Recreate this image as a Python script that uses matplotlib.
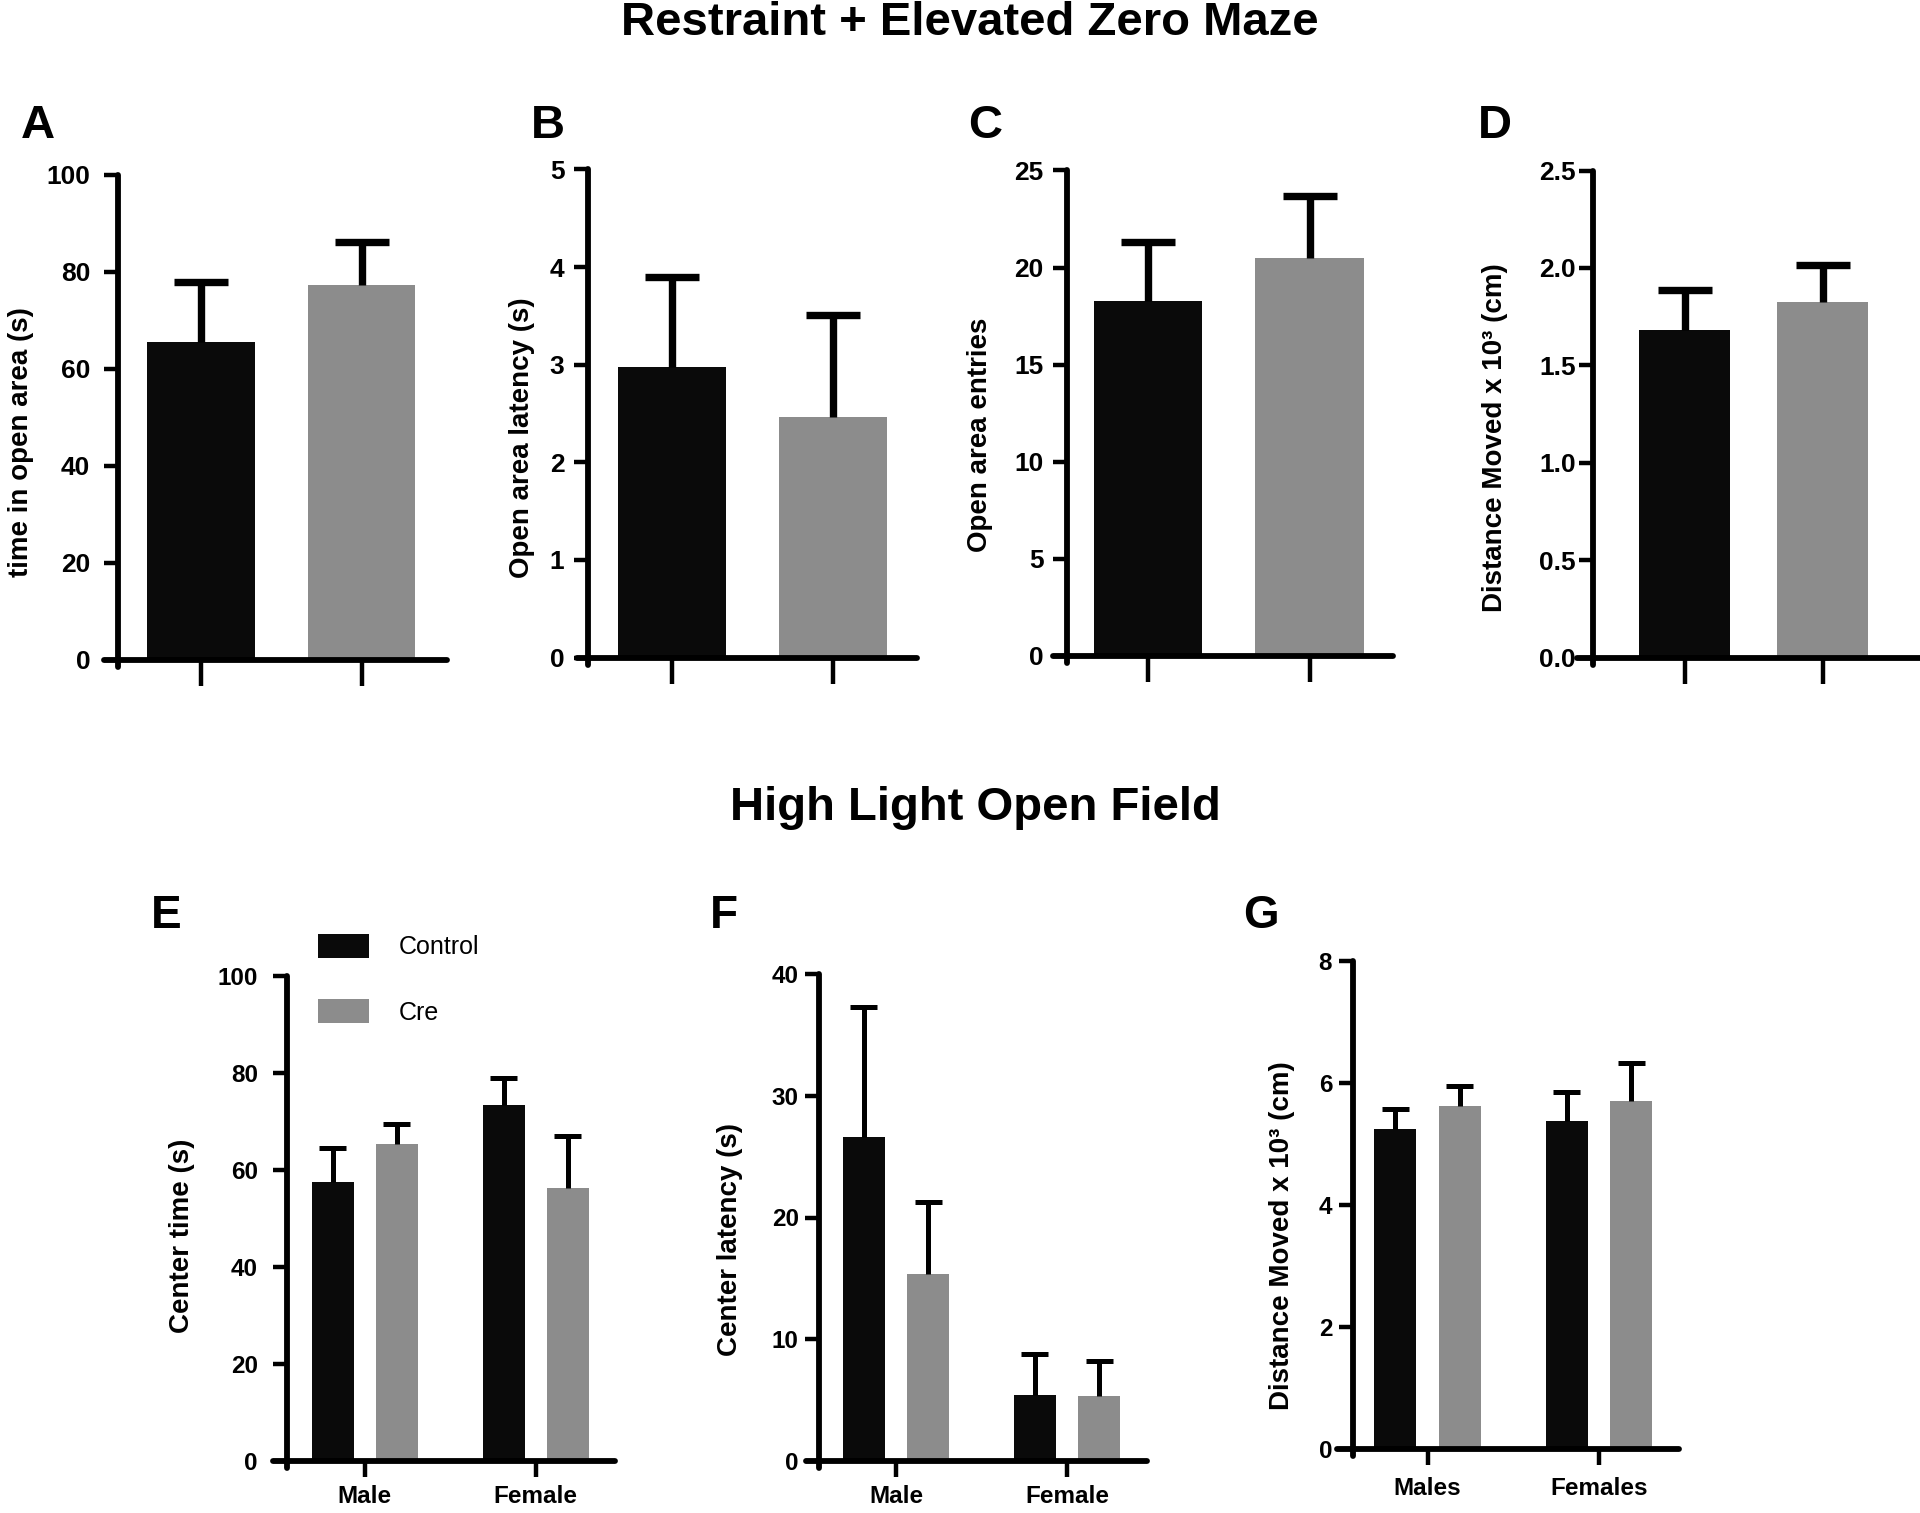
# Restraint + elevated zero maze / high light open field bar panels
import numpy as np
import matplotlib
matplotlib.use("Agg")
import matplotlib.pyplot as plt

plt.rcParams['font.family'] = ['Liberation Sans', 'DejaVu Sans']

# ---- data ----
groups = ["Control", "Cre"]

# top row (A-D): control / cre means and upper SEM
top_ylabels = ["time in open area (s)", "Open area latency (s)",
               "Open area entries", "Distance Moved x 10\u00b3 (cm)"]
top_ctrl = [65.5, 2.98, 18.3, 1.68]
top_ctrl_err = [12.3, 0.92, 3.0, 0.205]
top_cre = [77.2, 2.46, 20.5, 1.826]
top_cre_err = [8.9, 1.05, 3.2, 0.19]
top_ymax = [100, 5, 25, 2.5]
top_ystep = [20, 1, 5, 0.5]

# bottom row (E-G): male / female
sex_labels = [["Male", "Female"], ["Male", "Female"], ["Males", "Females"]]
bot_ylabels = ["Center time (s)", "Center latency (s)",
               "Distance Moved x 10\u00b3 (cm)"]
bot_ctrl = [[57.6, 73.3], [26.6, 5.4], [5.24, 5.37]]
bot_ctrl_err = [[6.9, 5.6], [10.7, 3.4], [0.34, 0.49]]
bot_cre = [[65.4, 56.2], [15.4, 5.3], [5.63, 5.71]]
bot_cre_err = [[4.0, 10.8], [5.9, 2.95], [0.32, 0.62]]
bot_ymax = [100, 40, 8]
bot_ystep = [20, 10, 2]

BLACK = "#0a0a0a"
GREY = "#8c8c8c"

W, H = 1920, 1513
fig = plt.figure(figsize=(W / 100, H / 100), dpi=100)


def px_axes(x0, xs, x1, c0, u, yt, yz, ymax):
    # build an axes from a pixel layout
    yb = yz + 7
    ax = fig.add_axes([x0 / W, 1 - yb / H, (x1 - x0) / W, (yb - yt) / H])
    ax.set_xlim((x0 - c0) / u, (x1 - c0) / u)
    ax.set_ylim(-(yb - yz) / (yz - yt) * ymax, ymax)
    ax.spines['left'].set_position(('data', (xs - c0) / u))
    ax.spines['bottom'].set_position(('data', 0))
    ax.spines['top'].set_visible(False)
    ax.spines['right'].set_visible(False)
    for s in ('left', 'bottom'):
        ax.spines[s].set_linewidth(4.2)
        ax.spines[s].set_capstyle('round')
    ax.patch.set_visible(False)
    return ax


def upper_err(ax, x, vals, errs, half, lw):
    # SEM drawn upward only: stem + top cap
    x = np.asarray(x, float)
    tops = np.asarray(vals) + np.asarray(errs)
    ax.vlines(x, vals, tops, color='black', linewidth=lw, zorder=3)
    ax.hlines(tops, x - half, x + half, color='black', linewidth=lw, zorder=3)


def ftext(x, y, s, **kw):
    fig.text(x / W, 1 - y / H, s, **kw)


# ---- top row ----
top_layout = [
    (104, 118, 447, 201, 160.5, 174.5, 659.5, 0.67, 10),
    (577, 588, 917, 672, 161, 169.5, 657.5, 0.67, 7),
    (1053, 1067, 1393, 1148, 161.5, 170.5, 656, 0.67, 7),
    (1577, 1593, 1920, 1684.5, 138, 170.5, 657.5, 0.66, 2.5),
]
top_letters = [("A", 38), ("B", 548), ("C", 985), ("D", 1495)]
top_ylab_pos = [(21, 442), (522, 438), (980, 435), (1495, 438)]

for i in range(4):
    x0, xs, x1, c0, u, yt, yz, bw, pad = top_layout[i]
    ax = px_axes(x0, xs, x1, c0, u, yt, yz, top_ymax[i])
    xpos = np.arange(2)
    vals = [top_ctrl[i], top_cre[i]]
    errs = [top_ctrl_err[i], top_cre_err[i]]
    ax.bar(xpos, vals, width=bw, color=[BLACK, GREY], zorder=2)
    upper_err(ax, xpos, vals, errs, 27 / u, 5.3)
    ticks = np.arange(0, top_ymax[i] + 1e-9, top_ystep[i])
    ax.set_yticks(ticks)
    if i == 3:
        ax.set_yticklabels([f"{t:.1f}" for t in ticks])
    else:
        ax.set_yticklabels([f"{t:g}" for t in ticks])
    ax.set_xticks(xpos)
    ax.set_xticklabels(["", ""])
    ax.tick_params(axis='y', direction='out', length=10, width=3.2,
                   labelsize=19, pad=pad)
    ax.tick_params(axis='x', direction='out', length=18.5, width=3.2)
    for lab in ax.get_yticklabels():
        lab.set_fontweight('bold')
    lx, ly = top_ylab_pos[i]
    ftext(lx, ly, top_ylabels[i], rotation=90, ha='center', va='center',
          fontsize=20, fontweight='bold')
    ftext(top_letters[i][1], 126, top_letters[i][0], ha='center', va='center',
          fontsize=34, fontweight='bold')

ftext(970, 23, "Restraint + Elevated Zero Maze", ha='center', va='center',
      fontsize=34, fontweight='bold')
ftext(975, 808, "High Light Open Field", ha='center', va='center',
      fontsize=34, fontweight='bold')

# ---- bottom row ----
bot_layout = [
    (273, 287, 615, 364.75, 171, 976, 1461, 11, 5.5),
    (806, 819, 1147, 896, 171, 974, 1461, 4.5, 5.5),
    (1337, 1353, 1679, 1427.5, 171.5, 961, 1449, 5, 8.5),
]
bot_letters = [("E", 166), ("F", 724), ("G", 1261)]
bot_ylab_pos = [(182, 1236), (730, 1240), (1282, 1236)]
off, bw = 0.188, 0.245

for i in range(3):
    x0, xs, x1, c0, u, yt, yz, pad, xpad = bot_layout[i]
    ax = px_axes(x0, xs, x1, c0, u, yt, yz, bot_ymax[i])
    xg = np.arange(2)
    b1 = ax.bar(xg - off, bot_ctrl[i], width=bw, color=BLACK, zorder=2,
                label=groups[0])
    b2 = ax.bar(xg + off, bot_cre[i], width=bw, color=GREY, zorder=2,
                label=groups[1])
    upper_err(ax, xg - off, bot_ctrl[i], bot_ctrl_err[i], 13.5 / u, 3.6)
    upper_err(ax, xg + off, bot_cre[i], bot_cre_err[i], 13.5 / u, 3.6)
    ticks = np.arange(0, bot_ymax[i] + 1e-9, bot_ystep[i])
    ax.set_yticks(ticks)
    ax.set_yticklabels([f"{t:g}" for t in ticks])
    ax.set_xticks(xg)
    ax.set_xticklabels(sex_labels[i])
    ax.tick_params(axis='y', direction='out', length=10, width=3.2,
                   labelsize=17.5, pad=pad)
    ax.tick_params(axis='x', direction='out', length=11.5, width=3.2,
                   labelsize=17.5, pad=xpad)
    for lab in ax.get_yticklabels() + ax.get_xticklabels():
        lab.set_fontweight('bold')
    lx, ly = bot_ylab_pos[i]
    ftext(lx, ly, bot_ylabels[i], rotation=90, ha='center', va='center',
          fontsize=20, fontweight='bold')
    ftext(bot_letters[i][1], 916, bot_letters[i][0], ha='center', va='center',
          fontsize=33, fontweight='bold')
    if i == 0:
        fig.legend(handles=[b1, b2], loc='upper left',
                   bbox_to_anchor=(318 / W, 1 - 934 / H), frameon=False,
                   fontsize=18, handlelength=2.05, handleheight=1.08,
                   handletextpad=1.2, labelspacing=1.6, borderpad=0,
                   borderaxespad=0)

fig.savefig("out.png", dpi=100)
